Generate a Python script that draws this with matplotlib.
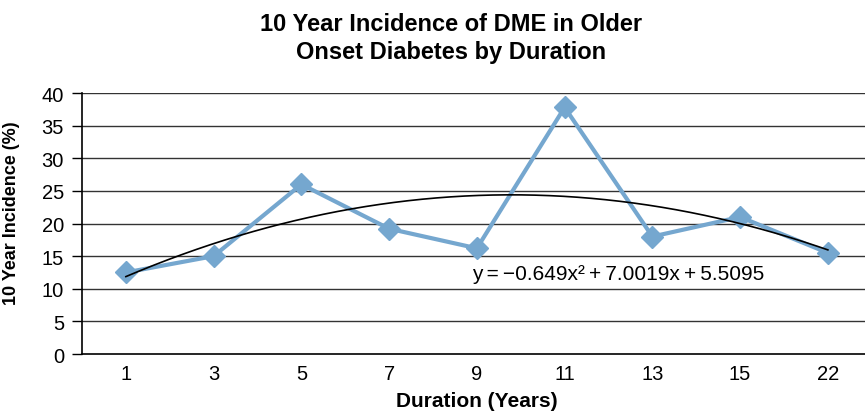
import numpy as np
import matplotlib
matplotlib.use("Agg")
import matplotlib.pyplot as plt

plt.rcParams['font.family'] = ['Liberation Sans', 'DejaVu Sans']

# Duration groups and 10 year incidence of DME (%)
durations = ['1', '3', '5', '7', '9', '11', '13', '15', '22']
incidence = [12.5, 15.0, 26.0, 19.2, 16.2, 37.8, 18.0, 21.0, 15.5]

# Polynomial trend (order 2), x counts the groups from 1
trend_coef = [-0.649, 7.0019, 5.5095]
y_ticks = [0, 5, 10, 15, 20, 25, 30, 35, 40]

line_color = '#75a7cf'

fig = plt.figure(figsize=(8.65, 4.14), dpi=100)
ax = fig.add_axes([0.0948, 0.1425, 0.913, 0.6304])

pos = np.arange(len(durations))

# Horizontal gridlines
for t in y_ticks[1:]:
    ax.axhline(t, color='#333333', lw=1.0, zorder=1)

# Data series
ax.plot(pos, incidence, color=line_color, lw=3, marker='D', markersize=11,
        markerfacecolor=line_color, markeredgecolor=line_color, zorder=3)

# Trend line from the fitted polynomial
xs = np.linspace(1, len(durations), 200)
ax.plot(xs - 1, np.polyval(trend_coef, xs), color='black', lw=1.2, zorder=4)

ts = '\u2009'
eq = f'y{ts}={ts}\u22120.649x\u00b2{ts}+{ts}7.0019x{ts}+{ts}5.5095'
ax.text(3.95, 12.3, eq, fontsize=15, va='center', ha='left', zorder=5)

ax.set_xlim(-0.5, 8.5)
ax.set_ylim(0, 40)
ax.set_yticks(y_ticks)
ax.set_xticks(pos)
ax.set_xticklabels(durations)
ax.tick_params(axis='x', length=0, labelsize=14.5, pad=7)
ax.tick_params(axis='y', length=7, width=1, labelsize=14.5, pad=6)

for side in ['top', 'right']:
    ax.spines[side].set_visible(False)
ax.spines['left'].set_linewidth(1.2)
ax.spines['bottom'].set_linewidth(1.2)

ax.set_xlabel('Duration (Years)', fontsize=15, fontweight='bold')
ax.xaxis.set_label_coords(0.5, -0.143)
ax.set_ylabel('10 Year Incidence (%)', fontsize=13, fontweight='bold')
ax.yaxis.set_label_coords(-0.078, 0.544)

fig.text(0.521, 0.968, '10 Year Incidence of DME in Older\nOnset Diabetes by Duration',
         ha='center', va='top', fontsize=17, fontweight='bold', linespacing=1.25)

fig.savefig('out.png', dpi=100)
